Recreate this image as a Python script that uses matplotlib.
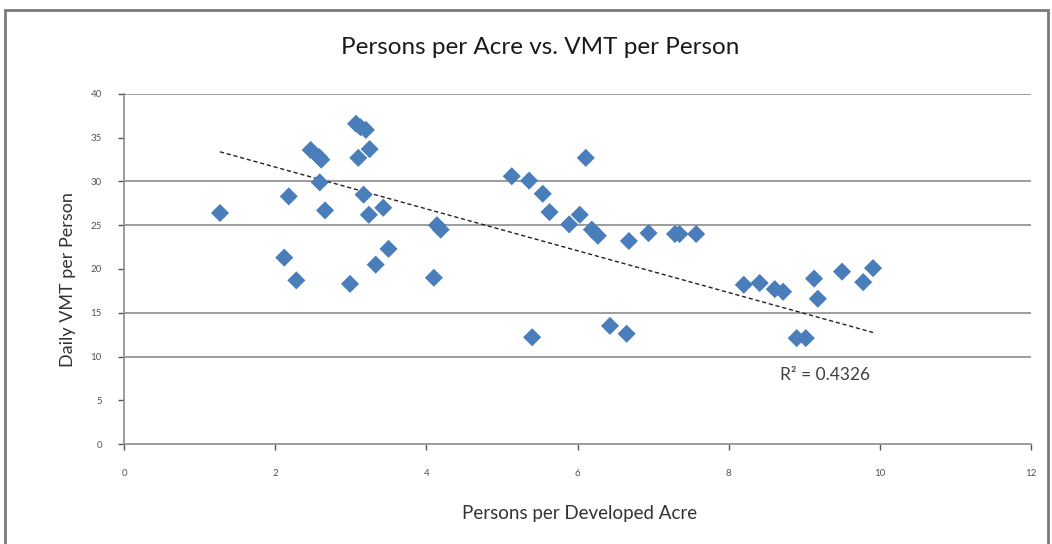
import numpy as np
import matplotlib
matplotlib.use("Agg")
import matplotlib.pyplot as plt
from matplotlib.patches import Rectangle

# ---- data ----
persons_per_acre = [
    1.27, 2.18, 2.12, 2.28, 2.47, 2.58, 2.61, 2.59, 2.66, 2.99,
    3.07, 3.13, 3.20, 3.10, 3.25, 3.17, 3.24, 3.33, 3.43, 3.50,
    4.10, 4.14, 4.19,
    5.13, 5.36, 6.11, 5.54, 5.63, 5.89, 6.03, 6.19, 6.27, 6.68,
    6.94, 7.29, 7.35, 7.57, 5.40, 6.43, 6.65,
    8.20, 8.41, 8.61, 8.72, 9.13, 9.18, 9.50, 9.78, 9.91, 8.90, 9.02,
]
vmt_per_person = [
    26.4, 28.3, 21.3, 18.7, 33.6, 32.8, 32.5, 29.9, 26.7, 18.3,
    36.6, 36.2, 35.9, 32.7, 33.7, 28.5, 26.2, 20.5, 27.0, 22.3,
    19.0, 25.0, 24.5,
    30.6, 30.1, 32.7, 28.6, 26.5, 25.1, 26.2, 24.5, 23.8, 23.2,
    24.1, 24.0, 24.0, 24.0, 12.2, 13.5, 12.6,
    18.2, 18.4, 17.7, 17.4, 18.9, 16.6, 19.7, 18.5, 20.1, 12.1, 12.1,
]
# linear trendline as drawn in the reference (slope, intercept)
trend_slope = -2.39
trend_intercept = 36.43
x_ticks = [0, 2, 4, 6, 8, 10, 12]
y_ticks = [0, 5, 10, 15, 20, 25, 30, 35, 40]
gridline_levels = [10, 15, 25, 30, 40]
r2_label = "R² = 0.4326"
title = "Persons per Acre vs. VMT per Person"
x_label = "Persons per Developed Acre"
y_label = "Daily VMT per Person"

plt.rcParams['font.family'] = ['Lato', 'DejaVu Sans']

fig = plt.figure(figsize=(10.52, 5.44), dpi=100)
W, H = 1052, 544
ax = fig.add_axes([124 / W, 1 - 444 / H, (1031 - 124) / W, (444 - 94) / H])

x = np.array(persons_per_acre)
y = np.array(vmt_per_person)

grid_c = "#8c8c8c"
for g in gridline_levels:
    ax.axhline(g, color=grid_c, lw=1.2, zorder=1)

xs = np.array([x.min(), x.max()])
ax.plot(xs, trend_slope * xs + trend_intercept, color="#222222", lw=1.0,
        linestyle=(0, (3, 2)), zorder=2)

ax.scatter(x, y, marker="D", s=85, color="#4a7ebb", edgecolors="none", zorder=3)

ax.text(8.68, 7.9, r2_label, fontsize=12.5, color="#404040", va="center")

ax.set_xlim(0, 12)
ax.set_ylim(0, 40)
ax.set_xticks(x_ticks)
ax.set_yticks(y_ticks)
ax.tick_params(axis="both", labelsize=7, colors="#555555", length=4,
               width=1, direction="out", pad=12)
ax.tick_params(axis="x", pad=14)
for s in ["top", "right"]:
    ax.spines[s].set_visible(False)
for s in ["left", "bottom"]:
    ax.spines[s].set_color(grid_c)
    ax.spines[s].set_linewidth(1.2)

fig.text(540 / W, 1 - 47 / H, title, ha="center", va="center",
         fontsize=17.5, color="#1a1a1a")
fig.text(580 / W, 1 - 514 / H, x_label, ha="center", va="center",
         fontsize=13.5, color="#333333")
fig.text(68 / W, 1 - 280 / H, y_label, ha="center", va="center",
         fontsize=13, color="#333333", rotation=90)

# outer chart frame
fig.patches.append(Rectangle((5 / W, -0.02), (1048 - 5) / W, 1.02 - 10 / H,
                             transform=fig.transFigure, fill=False,
                             edgecolor="#7a7a7a", lw=2))

fig.savefig("out.png", dpi=100)
